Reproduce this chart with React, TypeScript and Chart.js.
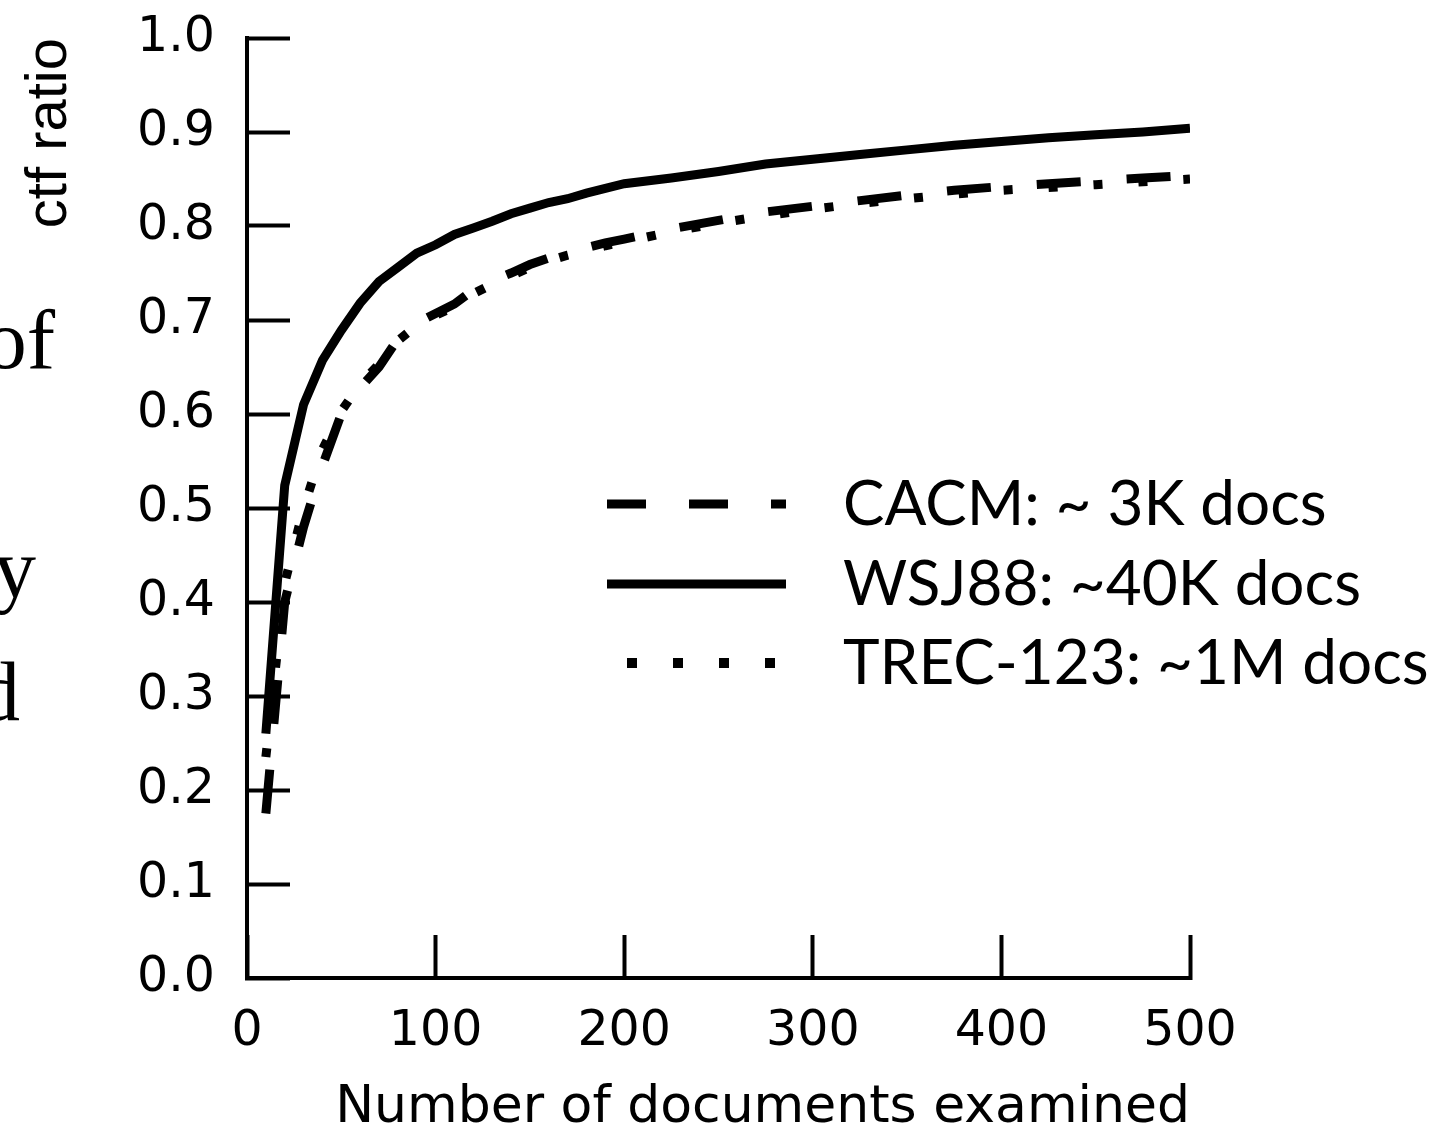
import React, { useEffect, useRef } from 'react';
import { Chart, registerables } from 'chart.js';

Chart.register(...registerables);

// ---- data ----
const docsExamined = [10, 20, 30, 40, 50, 60, 70, 80, 90, 100, 110, 120, 130, 140, 150, 160, 170, 180, 190, 200,
  225, 250, 275, 300, 325, 350, 375, 400, 425, 450, 475, 500];

const cacmRatio = [0.175, 0.40, 0.48, 0.545, 0.60, 0.628, 0.650, 0.680, 0.697, 0.707, 0.717, 0.732, 0.742, 0.750, 0.759, 0.766, 0.772, 0.777, 0.782, 0.786,
  0.797, 0.806, 0.815, 0.821, 0.827, 0.833, 0.838, 0.842, 0.845, 0.848, 0.851, 0.854];

const wsj88Ratio = [0.26, 0.524, 0.61, 0.657, 0.689, 0.718, 0.741, 0.756, 0.771, 0.780, 0.791, 0.798, 0.805, 0.813, 0.819, 0.825, 0.829, 0.835, 0.840, 0.845,
  0.851, 0.858, 0.866, 0.871, 0.876, 0.881, 0.886, 0.890, 0.894, 0.897, 0.900, 0.904];

const trec123Ratio = [0.235, 0.42, 0.50, 0.562, 0.603, 0.632, 0.653, 0.678, 0.694, 0.705, 0.714, 0.728, 0.738, 0.747, 0.756, 0.763, 0.769, 0.774, 0.779, 0.783,
  0.794, 0.803, 0.811, 0.818, 0.824, 0.829, 0.834, 0.838, 0.841, 0.844, 0.847, 0.850];

const seriesLabels = ['CACM: ~ 3K docs', 'WSJ88: ~40K docs', 'TREC-123: ~1M docs'];
const xAxisTitle = 'Number of documents examined';
const yAxisTitle = 'ctf ratio';
const xMin = 0, xMax = 500, xStep = 100;
const yMin = 0, yMax = 1, yStep = 0.1;

// cropped slide text on the left edge
const sideTexts = [
  { text: 'of', right: 55, top: 297 },
  { text: 'y', right: 36, top: 526 },
  { text: 'd', right: 20, top: 649 },
];

const toPoints = (vals: number[]) => docsExamined.map((x, i) => ({ x, y: vals[i] }));

const legendStyles = [
  { dash: [39, 43], width: 9, start: 607, baseline: 525 },
  { dash: [] as number[], width: 9, start: 607, baseline: 605 },
  { dash: [10, 36], width: 10, start: 627, baseline: 684 },
];

const insideLegend = {
  id: 'insideLegend',
  afterDraw(chart: any) {
    const ctx: CanvasRenderingContext2D = chart.ctx;
    ctx.save();
    chart.data.datasets.forEach((ds: any, i: number) => {
      const st = legendStyles[i];
      const lineY = st.baseline - 21;
      ctx.strokeStyle = '#000';
      ctx.lineWidth = st.width;
      ctx.lineCap = 'butt';
      ctx.setLineDash(st.dash);
      ctx.beginPath();
      ctx.moveTo(st.start, lineY);
      ctx.lineTo(786, lineY);
      ctx.stroke();
      ctx.setLineDash([]);
      ctx.fillStyle = '#000';
      ctx.font = '62px Lato';
      ctx.textAlign = 'left';
      ctx.textBaseline = 'alphabetic';
      ctx.fillText(ds.label, 843, st.baseline);
    });
    ctx.restore();
  },
};

export default function App() {
  const canvasRef = useRef<HTMLCanvasElement | null>(null);

  useEffect(() => {
    if (!canvasRef.current) return;
    const tickFont = { family: "'DejaVu Sans'", size: 49 };
    const chart = new Chart(canvasRef.current, {
      type: 'line',
      data: {
        datasets: [
          {
            label: seriesLabels[0],
            data: toPoints(cacmRatio),
            borderColor: '#000',
            borderWidth: 9,
            borderDash: [44, 46],
            pointRadius: 0,
            tension: 0,
            fill: false,
          },
          {
            label: seriesLabels[1],
            data: toPoints(wsj88Ratio),
            borderColor: '#000',
            borderWidth: 9,
            pointRadius: 0,
            tension: 0,
            fill: false,
          },
          {
            label: seriesLabels[2],
            data: toPoints(trec123Ratio),
            borderColor: '#000',
            borderWidth: 9,
            borderDash: [9, 36],
            pointRadius: 0,
            tension: 0,
            fill: false,
          },
        ],
      },
      options: {
        animation: false,
        responsive: false,
        devicePixelRatio: 1,
        layout: { padding: { left: 0, top: 38, right: 247, bottom: 0 } },
        plugins: {
          legend: { display: false },
          tooltip: { enabled: false },
        },
        scales: {
          x: {
            type: 'linear',
            min: xMin,
            max: xMax,
            afterFit: (s: any) => { s.height = 156; s.paddingLeft = 0; s.paddingRight = 0; },
            ticks: {
              stepSize: xStep,
              color: '#000',
              font: tickFont,
              padding: 68,
              maxRotation: 0,
              autoSkip: false,
            },
            grid: {
              display: true,
              drawOnChartArea: false,
              drawTicks: true,
              tickLength: -43,
              tickWidth: 4,
              tickColor: '#000',
            },
            border: { display: true, width: 4, color: '#000' },
            title: {
              display: true,
              text: xAxisTitle,
              align: 'end',
              color: '#000',
              font: { family: "'DejaVu Sans'", size: 52 },
              padding: { top: 0, bottom: -6 },
            },
          },
          y: {
            type: 'linear',
            min: yMin,
            max: yMax,
            afterFit: (s: any) => { s.width = 247; s.paddingTop = 0; s.paddingBottom = 0; },
            ticks: {
              stepSize: yStep,
              color: '#000',
              font: tickFont,
              padding: 75,
              callback: (v: any) => Number(v).toFixed(1),
            },
            grid: {
              display: true,
              drawOnChartArea: false,
              drawTicks: true,
              tickLength: -43,
              tickWidth: 4,
              tickColor: '#000',
            },
            border: { display: true, width: 4, color: '#000' },
            title: {
              display: true,
              text: yAxisTitle,
              align: 'end',
              color: '#000',
              font: { family: "'Liberation Sans', Arial", size: 58 },
              padding: { top: 15, bottom: 0 },
            },
          },
        },
      },
      plugins: [insideLegend],
    } as any);
    return () => chart.destroy();
  }, []);

  return (
    <div style={{ position: 'fixed', left: 0, top: 0, width: 1437, height: 1134, background: '#fff', overflow: 'hidden' }}>
      {sideTexts.map((t) => (
        <span
          key={t.text}
          style={{
            position: 'absolute',
            right: 1437 - t.right,
            top: t.top,
            fontFamily: "'Liberation Serif', serif",
            fontSize: 85,
            lineHeight: '85px',
            whiteSpace: 'nowrap',
            color: '#000',
          }}
        >
          {t.text}
        </span>
      ))}
      <canvas ref={canvasRef} width={1437} height={1134} style={{ position: 'absolute', left: 0, top: 0, display: 'block' }} />
    </div>
  );
}
